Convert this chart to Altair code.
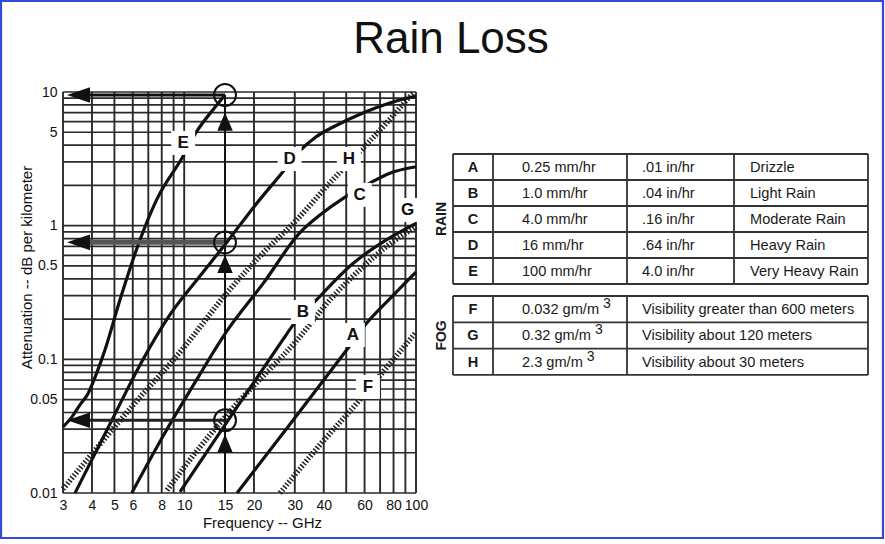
import altair as alt
import pandas as pd

FONT = "Liberation Sans"

# ---------------- text ----------------
title_text = "Rain Loss"
x_title = "Frequency -- GHz"
y_title = "Attenuation -- dB per kilometer"

# ---------------- axes ----------------
x_tick_labels = [3, 4, 5, 6, 8, 10, 15, 20, 30, 40, 60, 80, 100]
y_tick_labels = [0.01, 0.05, 0.1, 0.5, 1, 5, 10]
x_grid = [3, 4, 5, 6, 7, 8, 9, 10, 20, 30, 40, 50, 60, 70, 80, 90, 100]
y_grid = [0.01, 0.02, 0.03, 0.04, 0.05, 0.06, 0.07, 0.08, 0.09,
          0.1, 0.2, 0.3, 0.4, 0.5, 0.6, 0.7, 0.8, 0.9,
          1, 2, 3, 4, 5, 6, 7, 8, 9, 10]

# ---------------- rain curves (GHz, dB/km) ----------------
A_ghz = [16.9, 29.2, 50.2, 61.2, 77.0, 100]
A_db = [0.010, 0.0343, 0.1175, 0.186, 0.283, 0.450]
B_ghz = [9.6, 15.3, 26.6, 29.5, 37.2, 53.6, 74.5, 100]
B_db = [0.0102, 0.034, 0.1396, 0.181, 0.278, 0.523, 0.782, 1.04]
C_ghz = [5.94, 8.26, 11.1, 15.4, 22.0, 31.5, 38.5, 48.5, 63.2, 77.0, 100]
C_db = [0.010, 0.0282, 0.0666, 0.166, 0.373, 0.882, 1.20, 1.60, 2.08, 2.47, 2.76]
D_ghz = [3.38, 4.88, 6.55, 8.67, 11.7, 15.3, 20.1, 26.4, 31.5, 37.0, 43.9, 59.0, 77.0, 100]
D_db = [0.010, 0.0352, 0.0956, 0.215, 0.42, 0.755, 1.40, 2.48, 3.62, 4.61, 5.47, 6.97, 8.27, 9.33]
E_ghz = [3.0, 3.28, 3.55, 3.84, 4.21, 4.55, 5.28, 6.44, 7.6, 9.79, 11.36, 13.5, 15.0]
E_db = [0.0312, 0.0371, 0.0456, 0.0551, 0.0805, 0.1175, 0.278, 0.78, 1.56, 3.21, 5.11, 7.59, 9.5]

# ---------------- fog curves (GHz, dB/km) ----------------
F_ghz = [25.9, 38.5, 57.2, 72.0, 100]
F_db = [0.010, 0.0229, 0.0497, 0.0805, 0.159]
G_ghz = [8.43, 11.7, 17.0, 30.7, 42.5, 59.2, 74.5, 100]
G_db = [0.0105, 0.0221, 0.0472, 0.1396, 0.278, 0.494, 0.697, 0.983]
H_ghz = [3.0, 4.13, 6.3, 9.77, 15.4, 21.9, 30.5, 42.5, 60.2, 72.0, 85.0, 98.0]
H_db = [0.0107, 0.021, 0.0497, 0.1175, 0.319, 0.625, 1.10, 2.09, 3.94, 5.47, 7.59, 10.0]

# curve letter labels (position on the chart, GHz / dB)
label_letters = ["E", "D", "H", "C", "G", "B", "A", "F"]
label_ghz = [9.9, 28.5, 51.3, 57.2, 92.0, 32.5, 53.4, 62.0]
label_db = [4.16, 3.15, 3.15, 1.70, 1.31, 0.226, 0.152, 0.0622]

# worked example at 15 GHz
example_ghz = 15
example_levels = [9.5, 0.75, 0.035]
arrow_left_ghz = 3.5
arrow_up_db = [6.0, 0.517, 0.0235]
shaft_widths = [3.0, 5.0, 3.0]
shaft_colors = ["#111111", "#555555", "#222222"]

# ---------------- legend table ----------------
rain_letters = ["A", "B", "C", "D", "E"]
rain_mm = ["0.25 mm/hr", "1.0 mm/hr", "4.0 mm/hr", "16 mm/hr", "100 mm/hr"]
rain_in = [".01 in/hr", ".04 in/hr", ".16 in/hr", ".64 in/hr", "4.0 in/hr"]
rain_desc = ["Drizzle", "Light Rain", "Moderate Rain", "Heavy Rain", "Very Heavy Rain"]
fog_letters = ["F", "G", "H"]
fog_density = ["0.032 gm/m", "0.32 gm/m", "2.3 gm/m"]
fog_exp = "3"
fog_desc = ["Visibility greater than 600 meters", "Visibility about 120 meters",
            "Visibility about 30 meters"]
group_names = ["RAIN", "FOG"]

# ---------------- layout (pixels) ----------------
PX0, PY0 = 63, 92          # plot origin in the page
W, H = 353, 401            # plot area
TOTAL_W, TOTAL_H = 885, 544

RAIN_TOP, RAIN_ROW = 154, 26
FOG_TOP, FOG_ROW = 296, 26.3
RAIN_COLS = [453, 493, 627, 734, 868]
FOG_COLS = [453, 493, 627, 868]
TXT = 14.6
LINE_C = "#333333"
GRID_C = "#2a2a2a"

xs = alt.Scale(type="log", domain=[3, 100], nice=False)
ys = alt.Scale(type="log", domain=[0.01, 10], nice=False)

# ---------------- axes (shared by every layer) ----------------
x_axis = alt.Axis(values=x_tick_labels, format="~g", labelFontSize=14, labelFont=FONT,
                  labelColor="#111", ticks=False, domain=False, grid=False,
                  labelPadding=5, labelFlush=False, labelOverlap=False,
                  title=x_title, titleFont=FONT, titleFontSize=15, titleFontWeight="normal",
                  titleColor="#111", titleX=262 - PX0, titleY=29, titleAlign="center",
                  titleBaseline="middle")
y_axis = alt.Axis(values=y_tick_labels, format="~g", labelFontSize=14, labelFont=FONT,
                  labelColor="#111", ticks=False, domain=False, grid=False,
                  labelPadding=6, labelFlush=False, labelOverlap=False,
                  title=y_title, titleFont=FONT, titleFontSize=15, titleFontWeight="normal",
                  titleColor="#111", titleAngle=270, titleX=26 - PX0, titleY=267 - PY0,
                  titleAlign="center", titleBaseline="middle")


def X(field):
    return alt.X(field, scale=xs, axis=x_axis)


def Y(field):
    return alt.Y(field, scale=ys, axis=y_axis)


vgrid = alt.Chart(pd.DataFrame({"f": x_grid})).mark_rule(color=GRID_C, strokeWidth=1.9).encode(
    x=X("f:Q"))
hgrid = alt.Chart(pd.DataFrame({"a": y_grid})).mark_rule(color=GRID_C, strokeWidth=1.7).encode(
    y=Y("a:Q"))

# ---------------- curves ----------------
rows = []
for name, kind, gx, dy in [("A", "rain", A_ghz, A_db), ("B", "rain", B_ghz, B_db),
                           ("C", "rain", C_ghz, C_db), ("D", "rain", D_ghz, D_db),
                           ("E", "rain", E_ghz, E_db), ("F", "fog", F_ghz, F_db),
                           ("G", "fog", G_ghz, G_db), ("H", "fog", H_ghz, H_db)]:
    for i, (g, d) in enumerate(zip(gx, dy)):
        rows.append({"curve": name, "kind": kind, "ghz": g, "db": d, "i": i})
curves = pd.DataFrame(rows)

enc = dict(x=X("ghz:Q"), y=Y("db:Q"), detail="curve:N", order="i:Q")
fog_lines = alt.Chart(curves).transform_filter(alt.datum.kind == "fog").mark_line(
    color="#1e1e1e", strokeWidth=5.5, strokeDash=[1.5, 1.9], interpolate="monotone").encode(**enc)
rain_lines = alt.Chart(curves).transform_filter(alt.datum.kind == "rain").mark_line(
    color="#111111", strokeWidth=3.2, interpolate="monotone").encode(**enc)

# ---------------- worked example arrows ----------------
ex = pd.DataFrame({"lvl": example_levels, "start": [arrow_left_ghz] * 3, "end": [example_ghz] * 3,
                   "w": shaft_widths, "c": shaft_colors, "up": arrow_up_db})
hshaft = alt.Chart(ex).mark_rule().encode(
    x=X("start:Q"), x2="end:Q", y=Y("lvl:Q"),
    strokeWidth=alt.StrokeWidth("w:Q", scale=None),
    color=alt.Color("c:N", scale=None))
vshaft = alt.Chart(pd.DataFrame({"f": [example_ghz], "lo": [0.01], "hi": [example_levels[0]]})).mark_rule(
    color="#111", strokeWidth=2).encode(x=X("f:Q"), y=Y("lo:Q"), y2="hi:Q")
left_heads = alt.Chart(ex).mark_point(shape="M -1 0 L 1 -0.68 L 1 0.68 Z", size=530, filled=True,
                                      color="#111", opacity=1).encode(x=X("start:Q"), y=Y("lvl:Q"))
up_heads = alt.Chart(ex).mark_point(shape="M 0 -1 L 0.85 1 L -0.85 1 Z", size=330, filled=True,
                                    color="#111", opacity=1).encode(x=X("end:Q"), y=Y("up:Q"))
circles = alt.Chart(ex).mark_point(shape="circle", size=480, filled=False, color="#111",
                                   strokeWidth=2, opacity=1).encode(x=X("end:Q"), y=Y("lvl:Q"))

# ---------------- curve letters ----------------
lab = pd.DataFrame({"t": label_letters, "ghz": label_ghz, "db": label_db})
lab_box = alt.Chart(lab).mark_square(size=576, color="white", opacity=1).encode(
    x=X("ghz:Q"), y=Y("db:Q"))
lab_txt = alt.Chart(lab).mark_text(font=FONT, fontSize=17, fontWeight="bold", color="#111",
                                   baseline="middle", align="center").encode(
    text="t:N", x=X("ghz:Q"), y=Y("db:Q"))

# ---------------- title & border ----------------
one = pd.DataFrame({"t": [title_text]})
title = alt.Chart(one).mark_text(font=FONT, fontSize=44, color="#111", baseline="middle",
                                 align="center").encode(
    text="t:N", x=alt.value(451 - PX0), y=alt.value(40 - PY0))
border = alt.Chart(one).mark_rect(fill=None, stroke="#3148d8", strokeWidth=2.2).encode(
    x=alt.value(1 - PX0), x2=alt.value(TOTAL_W - 2 - PX0),
    y=alt.value(1 - PY0), y2=alt.value(538 - PY0))

# ---------------- table ----------------
rain_df = pd.DataFrame({"letter": rain_letters, "mm": rain_mm, "inch": rain_in,
                        "desc": rain_desc, "row": list(range(len(rain_letters)))})
fog_df = pd.DataFrame({"letter": fog_letters, "dens": fog_density, "desc": fog_desc,
                       "exp": [fog_exp] * len(fog_letters), "row": list(range(len(fog_letters)))})

# approximate Arial/Liberation Sans advance widths for placing the superscript
_w = {".": 0.278, " ": 0.278, "/": 0.278, "g": 0.556, "m": 0.833}


def text_w(s, size):
    return sum(_w.get(ch, 0.556) for ch in s) * size


fog_df["sup_x"] = [522 - PX0 + text_w(s, TXT) + 4 for s in fog_density]


def cells(df, top, rowh, field, xpx, align, weight="normal"):
    return alt.Chart(df).transform_calculate(
        py=f"{top - PY0} + {rowh} * (datum.row + 0.5)"
    ).mark_text(font=FONT, fontSize=TXT, fontWeight=weight, color="#1a1a1a", align=align,
                baseline="middle", dy=1).encode(
        text=f"{field}:N", x=alt.value(xpx - PX0), y=alt.Y("py:Q", scale=None))


table_layers = [
    cells(rain_df, RAIN_TOP, RAIN_ROW, "letter", 473, "center", "bold"),
    cells(rain_df, RAIN_TOP, RAIN_ROW, "mm", 522, "left"),
    cells(rain_df, RAIN_TOP, RAIN_ROW, "inch", 642, "left"),
    cells(rain_df, RAIN_TOP, RAIN_ROW, "desc", 750, "left"),
    cells(fog_df, FOG_TOP, FOG_ROW, "letter", 473, "center", "bold"),
    cells(fog_df, FOG_TOP, FOG_ROW, "dens", 522, "left"),
    cells(fog_df, FOG_TOP, FOG_ROW, "desc", 642, "left"),
]
sup = alt.Chart(fog_df).transform_calculate(
    py=f"{FOG_TOP - PY0} + {FOG_ROW} * (datum.row + 0.5)"
).mark_text(font=FONT, fontSize=14, color="#1a1a1a", align="left", baseline="middle", dy=-5).encode(
    text="exp:N", x=alt.X("sup_x:Q", scale=None), y=alt.Y("py:Q", scale=None))
table_layers.append(sup)


def hrules(n, top, rowh, x0, x1):
    d = pd.DataFrame({"k": list(range(n + 1))})
    return alt.Chart(d).transform_calculate(py=f"{top - PY0} + {rowh} * datum.k").mark_rule(
        color=LINE_C, strokeWidth=1.8).encode(
        x=alt.value(x0 - PX0), x2=alt.value(x1 - PX0), y=alt.Y("py:Q", scale=None))


def vrules(cols, top, bottom):
    d = pd.DataFrame({"px": [c - PX0 for c in cols]})
    return alt.Chart(d).mark_rule(color=LINE_C, strokeWidth=1.8).encode(
        x=alt.X("px:Q", scale=None), y=alt.value(top - PY0), y2=alt.value(bottom - PY0))


rain_bottom = RAIN_TOP + RAIN_ROW * len(rain_letters)
fog_bottom = FOG_TOP + FOG_ROW * len(fog_letters)
table_layers += [
    hrules(len(rain_letters), RAIN_TOP, RAIN_ROW, RAIN_COLS[0], RAIN_COLS[-1]),
    vrules(RAIN_COLS, RAIN_TOP, rain_bottom),
    hrules(len(fog_letters), FOG_TOP, FOG_ROW, FOG_COLS[0], FOG_COLS[-1]),
    vrules(FOG_COLS, FOG_TOP, fog_bottom),
]

grp = pd.DataFrame({"g": group_names,
                    "py": [(RAIN_TOP + rain_bottom) / 2 - PY0, (FOG_TOP + fog_bottom) / 2 - PY0]})
groups = alt.Chart(grp).mark_text(font=FONT, fontSize=14, fontWeight="bold", color="#1a1a1a",
                                  angle=270, align="center", baseline="middle").encode(
    text="g:N", x=alt.value(442 - PX0), y=alt.Y("py:Q", scale=None))
table_layers.append(groups)

chart = alt.layer(
    vgrid, hgrid, fog_lines, rain_lines, hshaft, vshaft, left_heads, up_heads, circles,
    lab_box, lab_txt, title, border, *table_layers
).properties(
    width=W, height=H,
    padding={"left": PX0, "top": PY0, "right": TOTAL_W - PX0 - W, "bottom": TOTAL_H - PY0 - H},
    autosize=alt.AutoSizeParams(type="none"),
    background="white",
).configure_view(stroke=None)

chart.save("out.html", embed_options={"renderer": "svg", "actions": False})
